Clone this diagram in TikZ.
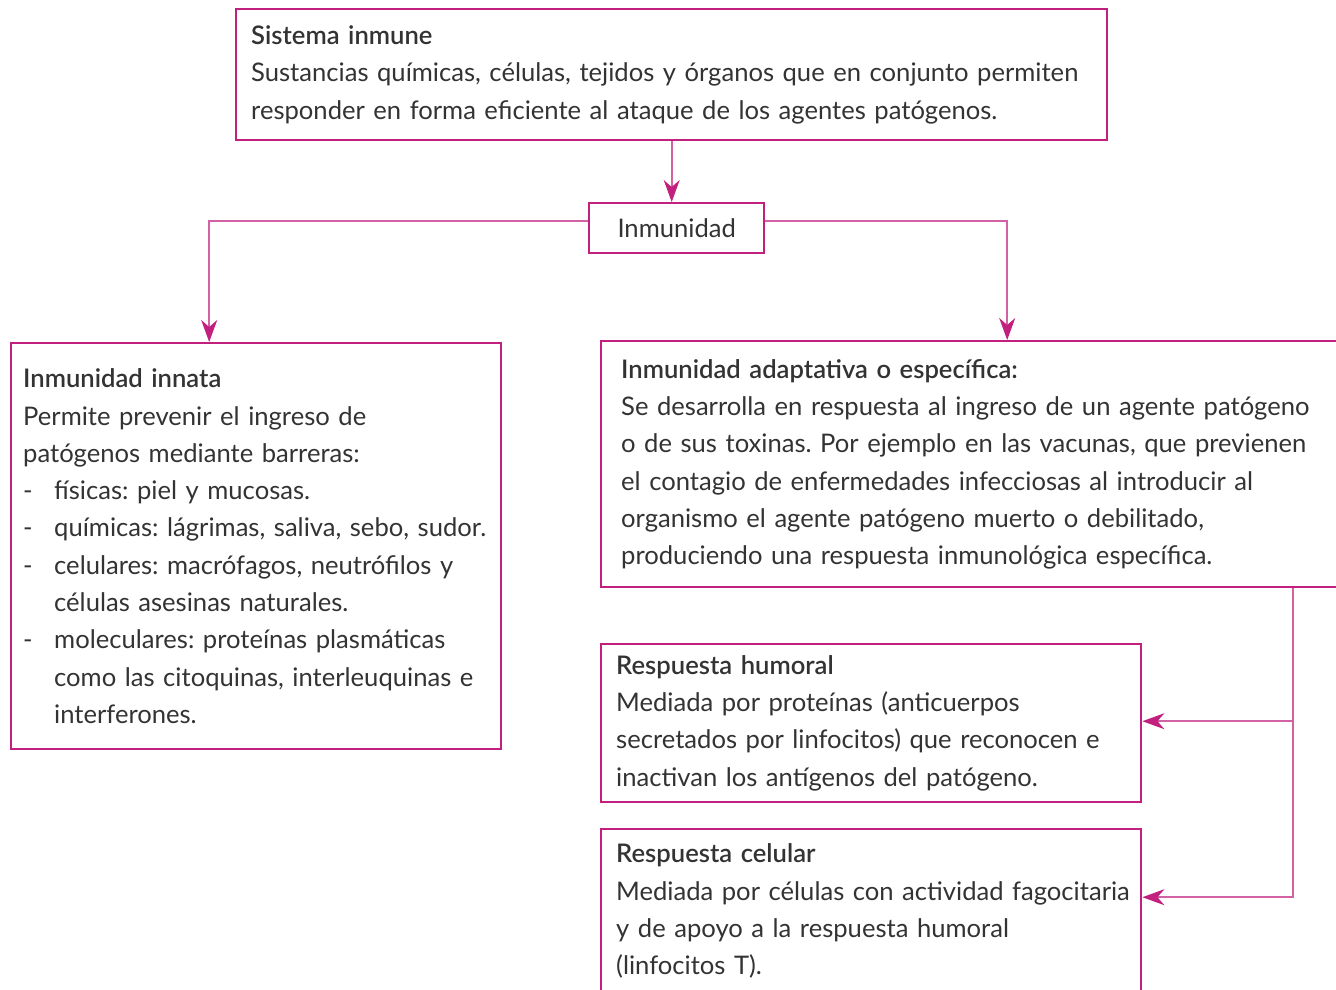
\documentclass[tikz,border=0pt]{standalone}
\usepackage{fontspec}
\setmainfont{Lato}[BoldFont={Lato Semibold}]
\usepackage{xcolor}
\usetikzlibrary{arrows.meta, positioning, calc}
\definecolor{inm_magenta}{HTML}{C1207E}
\definecolor{inm_pink}{HTML}{D262A4}
\definecolor{inm_text}{HTML}{333333}
\newcommand{\guion}[1]{\mbox{\makebox[31pt][l]{-}#1}}
\newcommand{\sigue}[1]{\mbox{\hspace*{31pt}#1}}
\frenchspacing

\begin{document}
\begin{tikzpicture}[
        x=1pt, y=-1pt,
        box/.style={rectangle, draw=inm_magenta, line width=2.4pt, anchor=north west, align=left,
            text=inm_text, font=\fontsize{25.6}{37.3}\selectfont, inner ysep=0pt},
        conn/.style={-{Stealth[length=22pt, width=16pt, inset=7pt, color=inm_magenta]}, line width=1.6pt, draw=inm_pink},
    ]
        \useasboundingbox (0,0) rectangle (1336,989);
        % Top
        \node[box, minimum width=871pt, minimum height=131pt, text width=841pt, inner xsep=15pt] (sistema) at (235,8)
            {\mbox{\textbf{Sistema inmune}}\\
             \mbox{Sustancias químicas, células, tejidos y órganos que en conjunto permiten}\\
             \mbox{responder en forma eficiente al ataque de los agentes patógenos.}};
        \node[box, minimum width=175pt, minimum height=50pt, align=center, inner xsep=4pt] (inmunidad) at (588,202)
            {Inmunidad};

        % Branches
        \node[box, minimum width=490pt, minimum height=406pt, text width=466pt, inner xsep=12pt] (innata) at (10,342)
            {\mbox{\textbf{Inmunidad innata}}\\
             \mbox{Permite prevenir el ingreso de}\\
             \mbox{patógenos mediante barreras:}\\
             \guion{físicas: piel y mucosas.}\\
             \guion{químicas: lágrimas, saliva, sebo, sudor.}\\
             \guion{celulares: macrófagos, neutrófilos y}\\
             \sigue{células asesinas naturales.}\\
             \guion{moleculares: proteínas plasmáticas}\\
             \sigue{como las citoquinas, interleuquinas e}\\
             \sigue{interferones.}};
        \node[box, minimum width=736pt, minimum height=246pt, text width=696pt, inner xsep=20pt] (adaptativa) at (600,340)
            {\mbox{\textbf{Inmunidad adaptativa o específica:}}\\
             \mbox{Se desarrolla en respuesta al ingreso de un agente patógeno}\\
             \mbox{o de sus toxinas. Por ejemplo en las vacunas, que previenen}\\
             \mbox{el contagio de enfermedades infecciosas al introducir al}\\
             \mbox{organismo el agente patógeno muerto o debilitado,}\\
             \mbox{produciendo una respuesta inmunológica específica.}};

        % Responses
        \node[box, minimum width=540pt, minimum height=158pt, text width=510pt, inner xsep=15pt] (humoral) at (600,643)
            {\mbox{\textbf{Respuesta humoral}}\\
             \mbox{Mediada por proteínas (anticuerpos}\\
             \mbox{secretados por linfocitos) que reconocen e}\\
             \mbox{inactivan los antígenos del patógeno.}};
        \node[box, minimum width=540pt, minimum height=164pt, text width=510pt, inner xsep=15pt] (celular) at (600,828)
            {\mbox{\textbf{Respuesta celular}}\\
             \mbox{Mediada por células con actividad fagocitaria}\\
             \mbox{y de apoyo a la respuesta humoral}\\
             \mbox{(linfocitos T).}};

        % Connections
        \draw[conn] (sistema.south) -- (sistema.south |- inmunidad.north);
        \draw[conn] ([yshift=7pt]inmunidad.west) -| ([xshift=-47pt]innata.north);
        \draw[conn] ([yshift=7pt]inmunidad.east) -| ([xshift=38pt]adaptativa.north);
        \draw[conn] ([xshift=324pt]adaptativa.south) |- ([yshift=2pt]humoral.east);
        \draw[conn] ([xshift=324pt]adaptativa.south) |- ([yshift=14pt]celular.east);
    \end{tikzpicture}
\end{document}
